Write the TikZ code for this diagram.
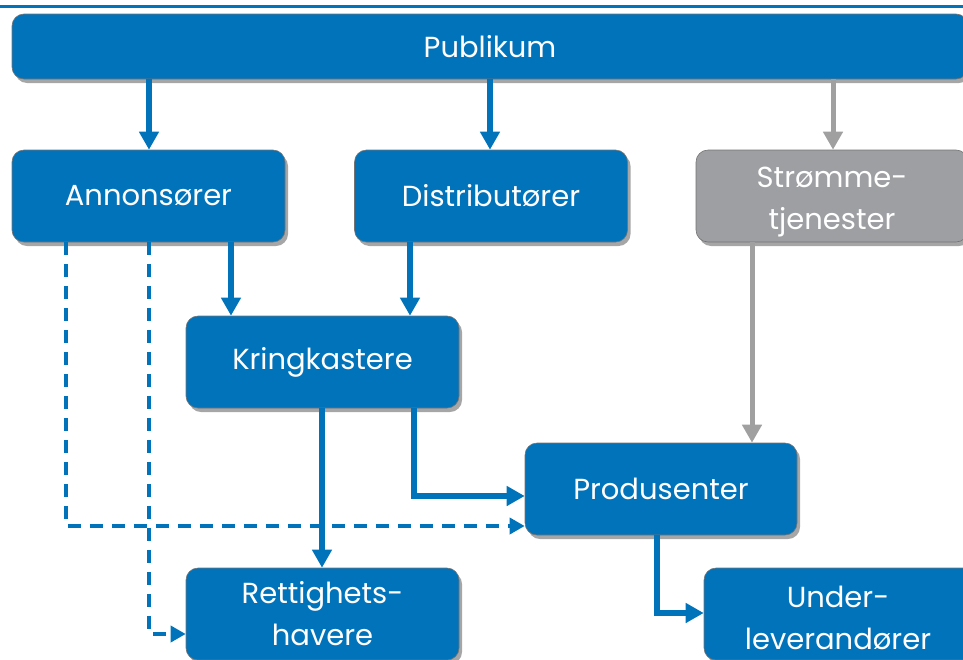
\documentclass[tikz,border=0pt]{standalone}
\usepackage{fontspec}
\setmainfont{Poppins}
\usetikzlibrary{arrows.meta,shadows,calc}
\definecolor{mblue}{RGB}{0,115,187}
\definecolor{mgray}{RGB}{157,159,162}
\definecolor{agray}{RGB}{160,160,160}
\tikzset{
  box/.style={rounded corners=12pt, fill=mblue, draw=black!55, line width=0.6pt,
    minimum width=273pt, minimum height=92pt, inner sep=0pt, text=white,
    align=center, font=\fontsize{29}{42}\selectfont,
    drop shadow={shadow xshift=3pt, shadow yshift=-4pt, opacity=0.35, fill=black}},
  graybox/.style={box, fill=mgray},
  arr/.style={draw=mblue, line width=5.5pt, -{Triangle[width=19pt,length=18pt]}},
  garr/.style={draw=agray, line width=5pt, -{Triangle[width=19pt,length=18pt]}},
  darr/.style={draw=mblue, line width=3.5pt, dash pattern=on 13pt off 9pt, -{Triangle[width=16pt,length=15pt]}}
}
\begin{document}
\begin{tikzpicture}[x=1pt,y=-1pt]
\useasboundingbox (0,0) rectangle (963,659);
\clip (0,0) rectangle (963,659);
\draw[mblue, line width=3pt] (0,6.5) -- (963,6.5);
\node[box, minimum width=956pt, minimum height=65pt] (pub) at (490,46.5) {Publikum};
\node[box] (ann) at (148.5,196) {Annonsører};
\node[box] (dist) at (491,196) {Distributører};
\node[graybox, minimum width=272pt] (strm) at (832,196) {};
\node[text=white, align=center, font=\fontsize{29}{42}\selectfont, inner sep=0pt] (strmtxt) at (832,202) {Strømme-\\tjenester};
\node[box] (kring) at (322.5,362) {Kringkastere};
\node[box, minimum width=272pt] (prod) at (661,489) {Produsenter};
\node[box] (rett) at (322.5,614) {Rettighets-\\havere};
\node[box, minimum width=272pt] (under) at (840,614) {};
\node[text=white, align=center, font=\fontsize{29}{42}\selectfont, inner sep=0pt] (undertxt) at (838,618) {Under-\\leverandører};

\draw[arr] (pub.south -| 149,0) -- (ann.north -| 149,0);
\draw[arr] (pub.south -| 490,0) -- (dist.north -| 490,0);
\draw[garr] (pub.south -| 833,0) -- (strm.north -| 833,0);
\draw[arr] (ann.south -| 231,0) -- (kring.north -| 231,0);
\draw[arr] (dist.south -| 410,0) -- (kring.north -| 410,0);
\draw[garr] (strm.south -| 752,0) -- (prod.north -| 752,0);
\draw[arr] (kring.south -| 322,0) -- (rett.north -| 322,0);
\draw[arr] (kring.south -| 414,0) |- (prod.west |- 0,496);
\draw[darr] (ann.south -| 66,0) |- (prod.west |- 0,526);
\draw[darr] (ann.south -| 149,0) |- (rett.west |- 0,634);
\draw[arr] (prod.south -| 657,0) |- (under.west |- 0,613);
\end{tikzpicture}
\end{document}
